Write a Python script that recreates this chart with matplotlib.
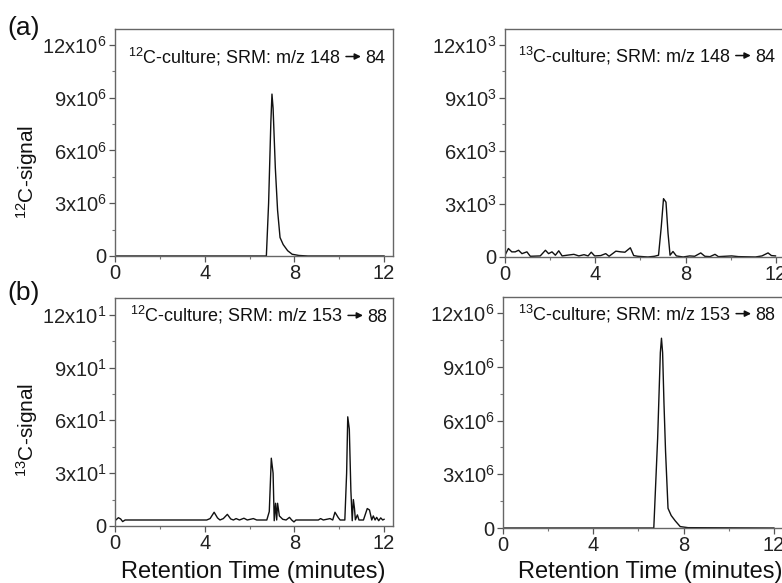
import matplotlib
matplotlib.use("Agg")
import matplotlib.pyplot as plt
from matplotlib.ticker import MultipleLocator

plt.rcParams['font.family'] = ['Liberation Sans', 'DejaVu Sans']
plt.rcParams['mathtext.fontset'] = 'custom'
plt.rcParams['mathtext.rm'] = 'Liberation Sans'
plt.rcParams['mathtext.it'] = 'Liberation Sans:italic'

# (a) top left: 12C-culture, SRM 148 -> 84 (signal in counts)
time_a12 = [0, 6.75, 6.85, 6.95, 7.0, 7.05, 7.15, 7.25, 7.36, 7.5, 7.7, 7.9, 8.2, 8.6, 12]
sig_a12 = [0, 0, 3.0e6, 7.6e6, 9.2e6, 8.4e6, 5.0e6, 2.6e6, 1.05e6, 0.65e6, 0.3e6, 0.1e6, 0.03e6, 0, 0]

# (a) top right: 13C-culture, SRM 148 -> 84
time_a13 = [0, 0.15, 0.3, 0.45, 0.6, 0.75, 0.97, 1.12, 1.56, 1.79, 1.93, 2.08, 2.23, 2.38,
            2.53, 2.75, 3.05, 3.27, 3.5, 3.68, 3.82, 3.97, 4.24, 4.46, 4.61, 4.91, 5.13,
            5.31, 5.55, 5.7, 5.88, 6.33, 6.62, 6.8, 6.92, 7.02, 7.13, 7.22, 7.31, 7.44,
            7.59, 7.89, 8.18, 8.4, 8.67, 8.85, 9.08, 9.3, 9.45, 10.04, 10.34, 11.09,
            11.38, 11.65, 11.8, 11.98]
sig_a13 = [100, 480, 290, 290, 380, 190, 290, 40, 60, 380, 190, 290, 100, 350,
           60, 100, 150, 60, 130, 60, 270, 60, 80, 190, 40, 330, 290,
           270, 520, 80, 40, 0, 40, 100, 1700, 3300, 3100, 1350, 100, 310,
           60, 0, 60, 40, 230, 40, 20, 150, 20, 60, 20, 0,
           60, 230, 80, 60]

# (b) bottom left: 12C-culture, SRM 153 -> 88
time_b12 = [0, 0.15, 0.25, 0.34, 0.45, 4.09, 4.24, 4.42, 4.57, 4.68, 4.83, 5.01, 5.16,
            5.28, 5.4, 5.55, 5.75, 5.9, 6.17, 6.32, 6.77, 6.88, 6.97, 7.05, 7.1, 7.16,
            7.21, 7.25, 7.33, 7.48, 7.63, 7.78, 7.88, 7.98, 8.07, 9.07, 9.17, 9.29,
            9.59, 9.71, 9.81, 9.96, 10.04, 10.25, 10.33, 10.38, 10.45, 10.52, 10.58,
            10.63, 10.68, 10.72, 10.81, 10.88, 11.08, 11.25, 11.35, 11.45, 11.52,
            11.6, 11.67, 11.76, 11.85, 11.94, 12.0]
sig_b12 = [3.0, 4.7, 4.0, 2.5, 3.4, 3.4, 4.2, 7.8, 4.6, 3.4, 4.2, 6.6, 4.0,
           3.4, 4.2, 3.4, 4.4, 3.4, 4.2, 3.4, 3.4, 8.2, 38.5, 30.0, 3.0, 12.9,
           3.4, 12.9, 5.7, 3.8, 3.4, 4.9, 3.4, 2.3, 3.4, 3.4, 4.2, 3.4,
           4.2, 3.4, 7.8, 4.7, 3.4, 3.4, 30.0, 62.0, 55.0, 20.0, 3.0,
           15.0, 10.0, 3.5, 6.3, 3.4, 3.4, 9.9, 9.1, 3.4, 5.7,
           3.4, 4.9, 3.0, 4.6, 3.4, 3.8]

# (b) bottom right: 13C-culture, SRM 153 -> 88
time_b13 = [0, 6.68, 6.85, 6.97, 7.02, 7.07, 7.13, 7.2, 7.31, 7.45, 7.63, 7.85, 8.2, 12]
sig_b13 = [0, 0, 5.0e6, 9.8e6, 10.6e6, 9.8e6, 7.0e6, 4.3e6, 1.1e6, 0.7e6, 0.4e6, 0.08e6, 0.02e6, 0]

x_ticks = [0, 4, 8, 12]
y_ticks_6 = [0, 3e6, 6e6, 9e6, 12e6]
y_labels_6 = ['0', r'$\mathregular{3x10^{6}}$', r'$\mathregular{6x10^{6}}$',
              r'$\mathregular{9x10^{6}}$', r'$\mathregular{12x10^{6}}$']
y_ticks_3 = [0, 3e3, 6e3, 9e3, 12e3]
y_labels_3 = ['0', r'$\mathregular{3x10^{3}}$', r'$\mathregular{6x10^{3}}$',
              r'$\mathregular{9x10^{3}}$', r'$\mathregular{12x10^{3}}$']
y_ticks_1 = [0, 30, 60, 90, 120]
y_labels_1 = ['0', r'$\mathregular{3x10^{1}}$', r'$\mathregular{6x10^{1}}$',
              r'$\mathregular{9x10^{1}}$', r'$\mathregular{12x10^{1}}$']

panels = [
    # rect, time, signal, ticks, labels, ylim top, note (before / after arrow), note position
    ([0.1471, 0.5609, 0.3555, 0.3894], time_a12, sig_a12, y_ticks_6, y_labels_6, 12.9e6,
     (r'$\mathregular{^{12}}$C-culture; SRM: m/z 148', '84'), (0.047, 0.850)),
    ([0.6458, 0.5592, 0.3580, 0.3911], time_a13, sig_a13, y_ticks_3, y_labels_3, 12.9e3,
     (r'$\mathregular{^{13}}$C-culture; SRM: m/z 148', '84'), (0.046, 0.855)),
    ([0.1471, 0.0978, 0.3555, 0.3911], time_b12, sig_b12, y_ticks_1, y_labels_1, 129.5,
     (r'$\mathregular{^{12}}$C-culture; SRM: m/z 153', '88'), (0.054, 0.895)),
    ([0.6432, 0.0943, 0.3580, 0.3962], time_b13, sig_b13, y_ticks_6, y_labels_6, 12.9e6,
     (r'$\mathregular{^{13}}$C-culture; SRM: m/z 153', '88'), (0.054, 0.900)),
]

fig = plt.figure(figsize=(7.82, 5.83), dpi=100)
renderer = fig.canvas.get_renderer()

for rect, t, s, yt, yl, ytop, note, pos in panels:
    ax = fig.add_axes(rect)
    ax.plot(t, s, color='#111111', lw=1.0)
    ax.set_xlim(0, 12.4)
    ax.set_ylim(0, ytop)
    ax.set_xticks(x_ticks)
    ax.set_xticklabels([str(v) for v in x_ticks])
    ax.xaxis.set_minor_locator(MultipleLocator(2))
    ax.set_yticks(yt)
    ax.set_yticklabels(yl)
    ax.yaxis.set_minor_locator(MultipleLocator(yt[1] / 2))
    ax.tick_params(which='major', direction='out', length=4, width=0.9,
                   color='#555555', labelsize=14.5, labelcolor='#222222', pad=2)
    ax.tick_params(which='minor', direction='out', length=2, width=0.8, color='#777777')
    for sp in ax.spines.values():
        sp.set_color('#666666')
        sp.set_linewidth(1.0)

    # note text, then a small filled-head arrow, then the product ion
    left = ax.text(pos[0], pos[1], note[0], transform=ax.transAxes, fontsize=13,
                   ha='left', va='baseline', color='#111111')
    bb = left.get_window_extent(renderer)
    ax_bb = ax.get_window_extent(renderer)
    px_w, px_h = ax_bb.width, ax_bb.height
    x0 = (bb.x1 - ax_bb.x0 + 5) / px_w
    x1 = x0 + 15 / px_w
    ya = pos[1] + 6.5 / px_h
    ax.annotate('', xy=(x1, ya), xytext=(x0, ya), xycoords='axes fraction',
                arrowprops=dict(arrowstyle='-|>', lw=1.1, color='#111111',
                                mutation_scale=9, shrinkA=0, shrinkB=0))
    ax.text(x1 + 4 / px_w, pos[1], note[1], transform=ax.transAxes, fontsize=13,
            ha='left', va='baseline', color='#111111')

fig.text(7 / 782, 1 - 28 / 583, '(a)', fontsize=19, ha='left', va='center', color='#111111')
fig.text(7 / 782, 1 - 293 / 583, '(b)', fontsize=19, ha='left', va='center', color='#111111')
fig.text(27 / 782, 1 - 172 / 583, r'$\mathregular{^{12}}$C-signal', fontsize=15,
         rotation=90, ha='center', va='center', color='#111111')
fig.text(27 / 782, 1 - 430 / 583, r'$\mathregular{^{13}}$C-signal', fontsize=15,
         rotation=90, ha='center', va='center', color='#111111')
fig.text(253 / 782, 1 - 572 / 583, 'Retention Time (minutes)', fontsize=17,
         ha='center', va='center', color='#111111')
fig.text(650 / 782, 1 - 572 / 583, 'Retention Time (minutes)', fontsize=17,
         ha='center', va='center', color='#111111')

fig.savefig('out.png', dpi=100)
